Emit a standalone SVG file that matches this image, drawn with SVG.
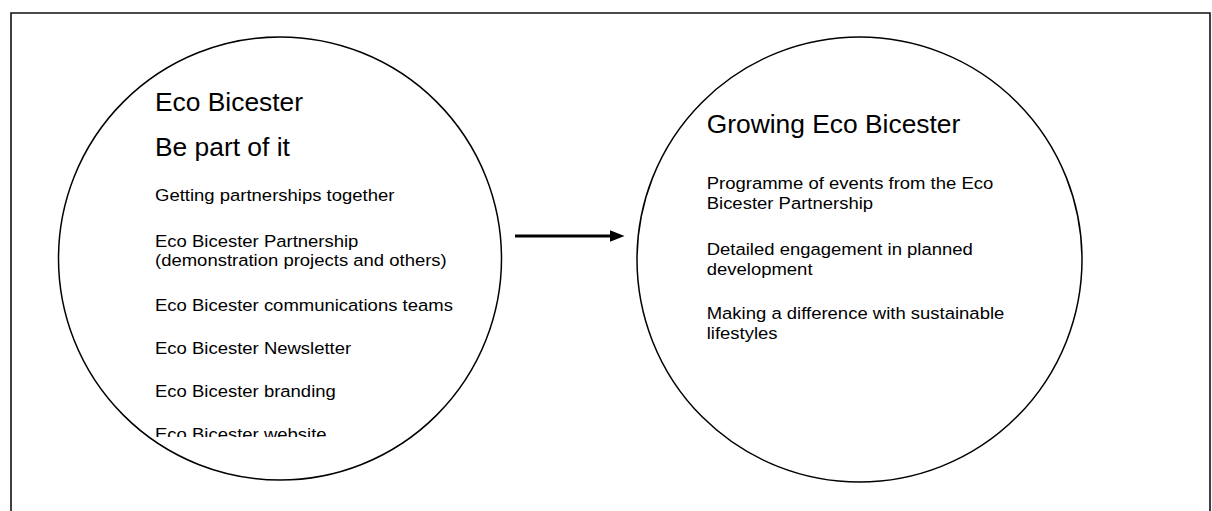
<svg xmlns="http://www.w3.org/2000/svg" width="1212" height="511" viewBox="0 0 1212 511">
  <style>
    .frame { fill: none; stroke: #111; stroke-width: 1.6; }
    .ring { fill: #fff; stroke: #000; stroke-width: 1.5; }
    .title { font-family: "Liberation Sans", Arial, sans-serif; font-size: 25px; fill: #000; }
    .item { font-family: "Liberation Sans", Arial, sans-serif; font-size: 17px; fill: #000; }
    .link { fill: none; stroke: #000; stroke-width: 3; }
  </style>
  <defs>
    <!-- head starts where the shaft ends, so the butt end stays hidden -->
    <marker id="head" viewBox="0 0 15 12" refX="0.5" refY="6" markerUnits="userSpaceOnUse" markerWidth="15" markerHeight="12" orient="auto">
      <path d="M0,0 L15,6 L0,12 Z" fill="#000"/>
    </marker>
    <clipPath id="leftClip">
      <rect x="0" y="0" width="600" height="437"/>
    </clipPath>
  </defs>

  <rect width="1212" height="511" fill="#fff"/>
  <!-- page frame, open at the bottom edge -->
  <path class="frame" d="M11,520 L11,13 L1210,13 L1210,520"/>

  <g id="node-be-part-of-it">
    <circle class="ring" cx="280" cy="258.5" r="221.5"/>
    <g transform="translate(155,0) scale(1.056,1)">
      <text class="title" x="0" y="111.5">Eco Bicester</text>
      <text class="title" x="0" y="156.5">Be part of it</text>
    </g>
    <g clip-path="url(#leftClip)">
      <g transform="translate(155,0) scale(1.088,1)">
        <text class="item" x="0" y="201.5">Getting partnerships together</text>
        <text class="item" x="0" y="247.3">Eco Bicester Partnership</text>
        <text class="item" x="0" y="266.3">(demonstration projects and others)</text>
        <text class="item" x="0" y="311.5">Eco Bicester communications teams</text>
        <text class="item" x="0" y="354.5">Eco Bicester Newsletter</text>
        <text class="item" x="0" y="397.5">Eco Bicester branding</text>
        <text class="item" x="0" y="440">Eco Bicester website</text>
      </g>
    </g>
  </g>

  <g id="node-growing">
    <circle class="ring" cx="859.5" cy="259.5" r="222.5"/>
    <g transform="translate(706.7,0) scale(1.056,1)">
      <text class="title" x="0" y="133.3">Growing Eco Bicester</text>
    </g>
    <g transform="translate(706.7,0) scale(1.088,1)">
      <text class="item" x="0" y="189">Programme of events from the Eco</text>
      <text class="item" x="0" y="209.5">Bicester Partnership</text>
      <text class="item" x="0" y="255">Detailed engagement in planned</text>
      <text class="item" x="0" y="275.3">development</text>
      <text class="item" x="0" y="319">Making a difference with sustainable</text>
      <text class="item" x="0" y="339.3">lifestyles</text>
    </g>
  </g>

  <g id="connectors">
    <line class="link" x1="515" y1="236" x2="610" y2="236" marker-end="url(#head)"/>
  </g>
</svg>
